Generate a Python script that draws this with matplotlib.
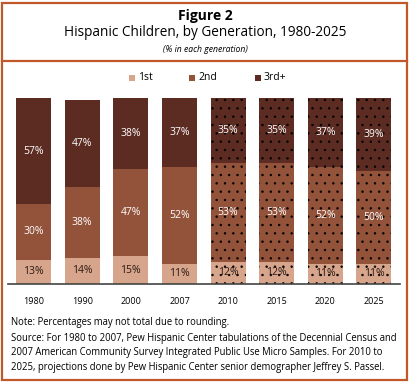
import matplotlib
matplotlib.use("Agg")
import matplotlib.pyplot as plt
from matplotlib.patches import Rectangle
from matplotlib.lines import Line2D

plt.rcParams['font.family'] = ['Open Sans', 'DejaVu Sans']
plt.rcParams['hatch.linewidth'] = 0.5

years = ['1980', '1990', '2000', '2007', '2010', '2015', '2020', '2025']
first = [13, 14, 15, 11, 12, 12, 11, 11]
second = [30, 38, 47, 52, 53, 53, 52, 50]
third = [57, 47, 38, 37, 35, 35, 37, 39]
projected = [False, False, False, False, True, True, True, True]

c1 = '#d7a58b'
c2 = '#93523a'
c3 = '#5c2c22'
border = '#c0582a'

W, H = 410, 382
fig = plt.figure(figsize=(W / 100, H / 100), dpi=100)

# frame
fig.add_artist(Rectangle((2 / W, 2 / H), (W - 5) / W, (H - 5) / H, transform=fig.transFigure,
                         fill=False, edgecolor=border, linewidth=1.6))
fig.add_artist(Line2D([2 / W, (W - 3) / W], [1 - 61 / H, 1 - 61 / H], transform=fig.transFigure,
                      color=border, linewidth=1.6))

fig.text(0.5, 1 - 16 / H, 'Figure 2', ha='center', va='center', fontsize=10, fontweight='bold')
fig.text(0.5, 1 - 33 / H, 'Hispanic Children, by Generation, 1980-2025', ha='center', va='center', fontsize=9.8)
fig.text(0.5, 1 - 50 / H, '(% in each generation)', ha='center', va='center', fontsize=6.2, style='italic')

ax = fig.add_axes([8 / W, 1 - 284 / H, 392 / W, 186 / H])
x = list(range(len(years)))
w = 0.72
for i in x:
    hatch = '..' if projected[i] else None
    ec = 'black' if projected[i] else 'none'
    ax.bar(i, first[i], w, color=c1, edgecolor=ec, linewidth=0, hatch=hatch)
    ax.bar(i, second[i], w, bottom=first[i], color=c2, edgecolor=ec, linewidth=0, hatch=hatch)
    ax.bar(i, third[i], w, bottom=first[i] + second[i], color=c3, edgecolor=ec, linewidth=0, hatch=hatch)
    ax.text(i, first[i] / 2, f'{first[i]}%', ha='center', va='center', fontsize=7.5, color='#2b1a14')
    ax.text(i, first[i] + second[i] / 2, f'{second[i]}%', ha='center', va='center', fontsize=7.5, color='white')
    ax.text(i, first[i] + second[i] + third[i] / 2, f'{third[i]}%', ha='center', va='center', fontsize=7.5, color='white')

ax.set_xlim(-0.525, 7.535)
ax.set_ylim(0, 100)
for s in ['top', 'right', 'left']:
    ax.spines[s].set_visible(False)
ax.spines['bottom'].set_color('#444444')
ax.spines['bottom'].set_linewidth(1.2)
ax.set_yticks([])
ax.set_xticks(x)
ax.set_xticklabels(years, fontsize=6.5)
ax.tick_params(axis='x', length=0, pad=9)

# legend
for lx, col, lab in [(129, c1, '1st'), (189, c2, '2nd'), (255, c3, '3rd+')]:
    fig.add_artist(Rectangle((lx / W, 1 - 81 / H), 6 / W, 6 / H, transform=fig.transFigure,
                             facecolor=col, edgecolor='none'))
    fig.text((lx + 9) / W, 1 - 78 / H, lab, ha='left', va='center', fontsize=7.5)

fig.text(11 / W, 1 - 322 / H, 'Note: Percentages may not total due to rounding.', ha='left', va='center', fontsize=6.85)
src = ['Source: For 1980 to 2007, Pew Hispanic Center tabulations of the Decennial Census and',
       '2007 American Community Survey Integrated Public Use Micro Samples. For 2010 to',
       '2025, projections done by Pew Hispanic Center senior demographer Jeffrey S. Passel.']
for k, line in enumerate(src):
    fig.text(11 / W, 1 - (338 + 14.7 * k) / H, line, ha='left', va='center', fontsize=6.85)

fig.savefig('out.png', dpi=100)
